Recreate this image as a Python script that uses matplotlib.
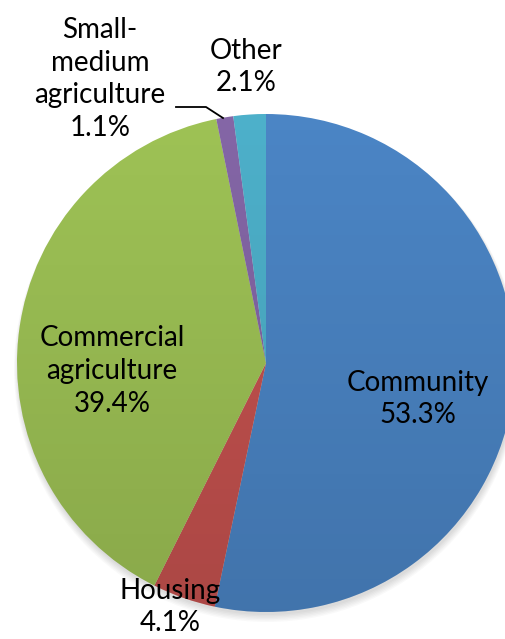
import matplotlib
matplotlib.use("Agg")
import matplotlib.pyplot as plt
import numpy as np
from matplotlib.patches import Circle

# land use shares, clockwise from 12 o'clock
labels = ["Community", "Housing", "Commercial\nagriculture", "Small-\nmedium\nagriculture", "Other"]
shares = [53.3, 4.1, 39.4, 1.1, 2.1]
colors = ["#4B85C5", "#C5524F", "#9EC255", "#8466A6", "#4DB0CA"]

plt.rcParams["font.family"] = ["Lato", "DejaVu Sans"]

W, H = 505, 639
fig = plt.figure(figsize=(W / 100, H / 100), dpi=100)
ax = fig.add_axes([0, 0, 1, 1])

cx, cy, r = 266, H - 363, 249

# soft drop shadow under the pie
for i in range(6):
    ax.add_patch(Circle((cx + 1, cy - 3 - i * 0.6), r + i * 0.8, color="black",
                        alpha=0.025, lw=0, zorder=0))

wedges, _ = ax.pie(shares, colors=colors, startangle=90, counterclock=False,
                   center=(cx, cy), radius=r, frame=True,
                   wedgeprops=dict(linewidth=0))
for w in wedges:
    w.set_zorder(2)

# darken toward the bottom, clipped to the disc
shade = np.zeros((256, 1, 4))
shade[:, 0, 3] = np.linspace(0.13, 0.0, 256)
im = ax.imshow(shade, extent=(cx - r, cx + r, cy - r, cy + r), origin="lower",
               aspect="auto", zorder=2.5, interpolation="bilinear")
disc = Circle((cx, cy), r, transform=ax.transData)
im.set_clip_path(disc)

fs = 20
ls = 1.33
ax.text(418, H - 399, "%s\n%.1f%%" % (labels[0], shares[0]), ha="center", va="center",
        fontsize=fs, linespacing=ls, zorder=3)
ax.text(112, H - 371, "%s\n%.1f%%" % (labels[2], shares[2]), ha="center", va="center",
        fontsize=fs, linespacing=ls, zorder=3)
ax.text(170, H - 607, "%s\n%.1f%%" % (labels[1], shares[1]), ha="center", va="center",
        fontsize=fs, linespacing=ls, zorder=3)
ax.text(100, H - 79, "%s\n%.1f%%" % (labels[3], shares[3]), ha="center", va="center",
        fontsize=fs, linespacing=ls, zorder=3)
ax.text(246, H - 67, "%s\n%.1f%%" % (labels[4], shares[4]), ha="center", va="center",
        fontsize=fs, linespacing=ls, zorder=3)

# leader line to the thin purple slice
ax.plot([176, 206, 223], [H - 107, H - 107, H - 118], color="black", lw=1.3, zorder=3)

ax.set_xlim(0, W)
ax.set_ylim(0, H)
ax.set_aspect("equal")
ax.axis("off")

fig.savefig("out.png", dpi=100, facecolor="white")
